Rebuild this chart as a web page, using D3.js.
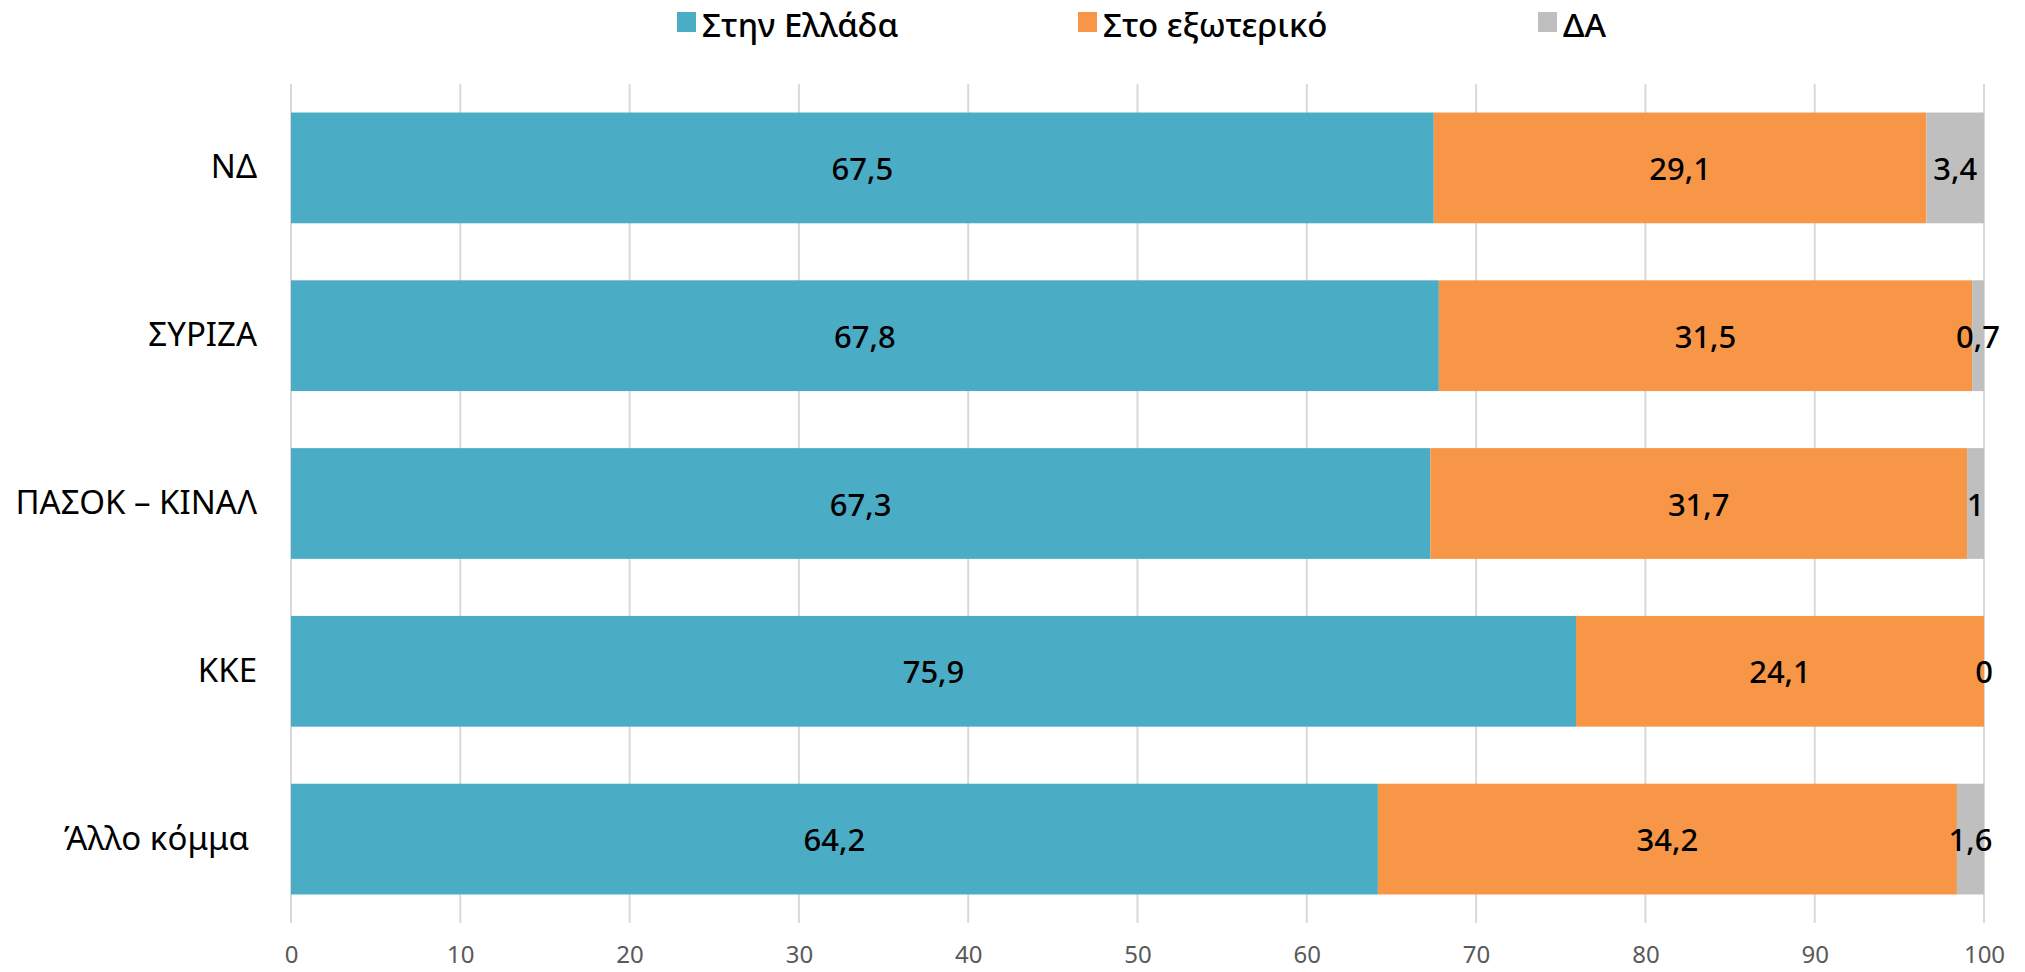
<!DOCTYPE html>
<html>
<head>
<meta charset="utf-8">
<script src="https://cdn.jsdelivr.net/npm/d3@7"></script>
<style>
  body { margin: 0; background: #fff; }
  text { font-family: "Noto Sans", "Open Sans", sans-serif; }
</style>
</head>
<body>
<div id="chart"></div>
<script>
// data
var parties = ["ΝΔ", "ΣΥΡΙΖΑ", "ΠΑΣΟΚ – ΚΙΝΑΛ", "ΚΚΕ", "Άλλο κόμμα"];
var inGreece = [67.5, 67.8, 67.3, 75.9, 64.2];
var abroad = [29.1, 31.5, 31.7, 24.1, 34.2];
var noAnswer = [3.4, 0.7, 1, 0, 1.6];
var seriesNames = ["Στην Ελλάδα", "Στο εξωτερικό", "ΔΑ"];
var tickValues = [0, 10, 20, 30, 40, 50, 60, 70, 80, 90, 100];

var colors = ["#4BACC6", "#F79646", "#BFBFBF"];

var W = 2025, H = 972;
var margin = { top: 84, right: 41, bottom: 49, left: 291 },
    width = W - margin.left - margin.right,
    height = H - margin.top - margin.bottom;

var svg = d3.select("#chart")
    .append("svg")
    .attr("width", W)
    .attr("height", H)
    .append("g")
    .attr("transform", "translate(" + margin.left + "," + margin.top + ")");

var rows = parties.map(function (p, i) {
    return { party: p, s0: inGreece[i], s1: abroad[i], s2: noAnswer[i] };
});

var keys = ["s0", "s1", "s2"];
var stacked = d3.stack().keys(keys)(rows);

var x = d3.scaleLinear().domain([0, 100]).range([0, width]);
var y = d3.scaleBand()
    .domain(parties)
    .range([0, height])
    .paddingInner(0.34)
    .paddingOuter(0.17);

// gridlines
svg.append("g")
    .selectAll("line")
    .data(tickValues)
    .enter().append("line")
    .attr("x1", function (d) { return x(d); })
    .attr("x2", function (d) { return x(d); })
    .attr("y1", 0)
    .attr("y2", height)
    .attr("stroke", "#D9D9D9")
    .attr("stroke-width", 2);

// x axis labels
var xAxis = svg.append("g")
    .attr("transform", "translate(0," + height + ")")
    .call(d3.axisBottom(x).tickValues(tickValues).tickSize(0).tickPadding(23)
        .tickFormat(function (d) { return d; }));
xAxis.select(".domain").remove();
xAxis.selectAll("text")
    .style("font-size", "24px")
    .style("font-family", "'Noto Sans', sans-serif")
    .attr("fill", "#595959");

// y axis labels
var yAxis = svg.append("g")
    .call(d3.axisLeft(y).tickSize(0).tickPadding(34));
yAxis.select(".domain").remove();
yAxis.selectAll("text")
    .style("font-size", "33px")
    .style("font-family", "'Noto Sans', sans-serif")
    .attr("fill", "#000")
    .attr("dx", function (d) { return d === "Άλλο κόμμα" ? -8 : 0; });

// bars
var layers = svg.append("g")
    .selectAll("g")
    .data(stacked)
    .enter().append("g")
    .attr("fill", function (d, i) { return colors[i]; });

layers.selectAll("rect")
    .data(function (d) { return d; })
    .enter().append("rect")
    .attr("x", function (d) { return x(d[0]); })
    .attr("y", function (d) { return y(d.data.party); })
    .attr("width", function (d) { return x(d[1]) - x(d[0]); })
    .attr("height", y.bandwidth());

// value labels
layers.selectAll("text")
    .data(function (d) { return d.map(function (v) { v.key = d.key; return v; }); })
    .enter().append("text")
    .attr("x", function (d) { return (x(d[0]) + x(d[1])) / 2; })
    .attr("y", function (d) { return y(d.data.party) + y.bandwidth() / 2; })
    .attr("text-anchor", "middle")
    .attr("dominant-baseline", "central")
    .style("font-size", "31px")
    .style("font-weight", "500")
    .attr("fill", "#000")
    .text(function (d) { return String(d.data[d.key]).replace(".", ","); });

// legend
var legendX = [677, 1078, 1538];
var legend = d3.select("svg").append("g");
legend.selectAll("rect")
    .data(seriesNames)
    .enter().append("rect")
    .attr("x", function (d, i) { return legendX[i]; })
    .attr("y", 12)
    .attr("width", 19)
    .attr("height", 20)
    .attr("fill", function (d, i) { return colors[i]; });
legend.selectAll("text")
    .data(seriesNames)
    .enter().append("text")
    .attr("x", function (d, i) { return legendX[i] + 25; })
    .attr("y", 24)
    .attr("dominant-baseline", "central")
    .style("font-size", "33px")
    .style("font-weight", "500")
    .attr("fill", "#000")
    .text(function (d) { return d; });
</script>
</body>
</html>
